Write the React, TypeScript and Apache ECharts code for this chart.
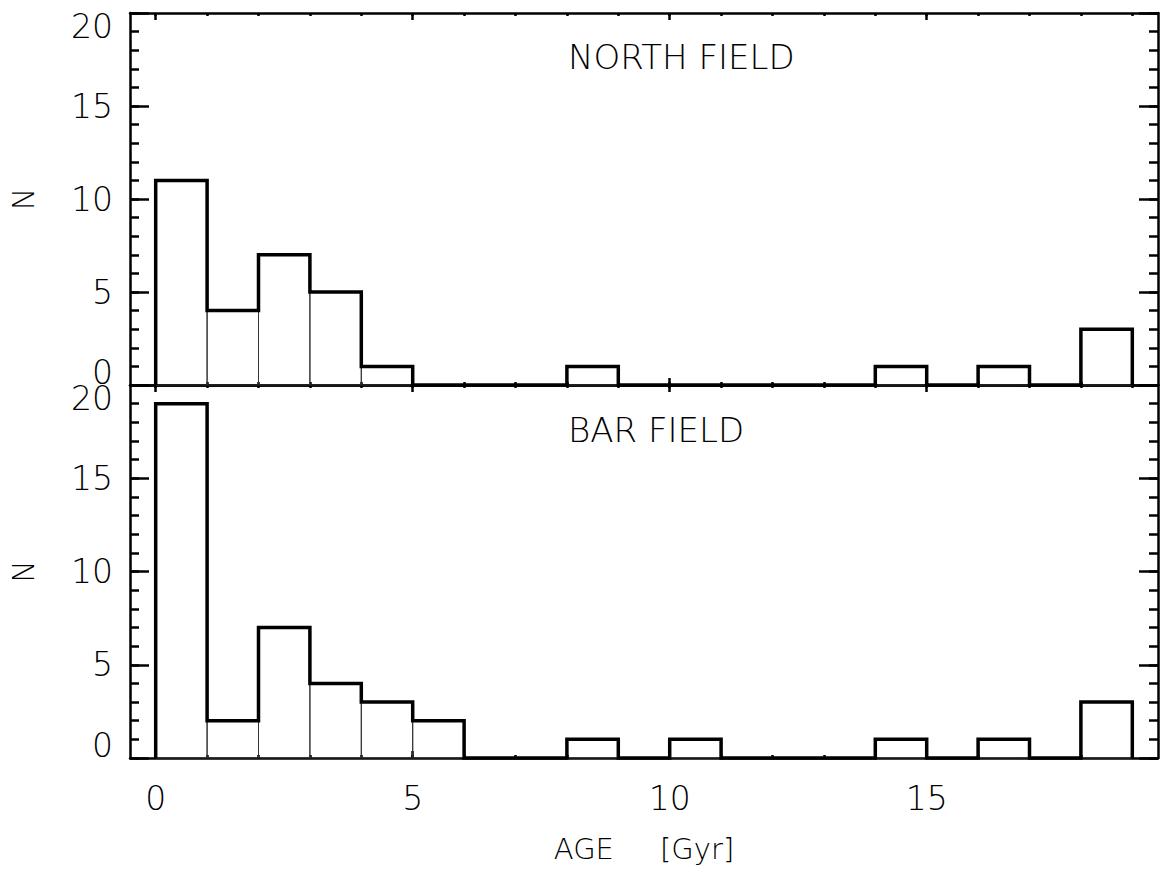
import React, { useEffect, useRef } from "react";
import * as echarts from "echarts";

// ---- data ----
const binLeftEdges = [0, 1, 2, 3, 4, 5, 6, 7, 8, 9, 10, 11, 12, 13, 14, 15, 16, 17, 18];
const binWidth = 1;
const northCounts = [11, 4, 7, 5, 1, 0, 0, 0, 1, 0, 0, 0, 0, 0, 1, 0, 1, 0, 3];
const barCounts = [19, 2, 7, 4, 3, 2, 0, 0, 1, 0, 1, 0, 0, 0, 1, 0, 1, 0, 3];
const xMajorTicks = [0, 5, 10, 15];
const xMinorTicks = [0, 1, 2, 3, 4, 5, 6, 7, 8, 9, 10, 11, 12, 13, 14, 15, 16, 17, 18, 19];
const yMajorStep = 5;
const yMinorStep = 1;
const panelTitles = ["NORTH FIELD", "BAR FIELD"];
const xTitle = "AGE     [Gyr]";
const yTitle = "N";

const FONT = "DejaVu Sans";
const FW = 200;
const X_MIN = -0.5;
const X_MAX = 19.5;
const Y_MIN = 0;
const Y_MAX = 20;

function stepData(counts: number[]) {
  const d: number[][] = [[binLeftEdges[0], 0]];
  binLeftEdges.forEach((e, i) => d.push([e, counts[i]]));
  d.push([binLeftEdges[binLeftEdges.length - 1] + binWidth, 0]);
  return d;
}

function rectData(counts: number[]) {
  return binLeftEdges.map((e, i) => [e, counts[i]]);
}

const TICK_STYLE = { color: "#000", width: 2.5 };

function xAxesFor(grid: number, labels: boolean) {
  const base = {
    type: "value",
    gridIndex: grid,
    min: X_MIN,
    max: X_MAX,
    splitLine: { show: false },
  };
  const lineOn = { show: true, onZero: false, lineStyle: { color: "#000", width: 2.5 } };
  return [
    {
      ...base,
      position: "bottom",
      axisLine: lineOn,
      axisTick: { show: true, inside: true, length: 7, customValues: xMajorTicks, lineStyle: TICK_STYLE },
      axisLabel: labels
        ? { show: true, customValues: xMajorTicks, fontSize: 33, fontFamily: FONT, fontWeight: FW, color: "#000", margin: 24 }
        : { show: false },
      name: labels ? xTitle : "",
      nameLocation: "middle",
      nameGap: 76,
      nameTextStyle: { fontSize: 29, fontFamily: FONT, fontWeight: FW, color: "#000" },
    },
    {
      ...base,
      position: "bottom",
      axisLine: { show: false, onZero: false },
      axisTick: { show: true, inside: true, length: 3, customValues: xMinorTicks, lineStyle: TICK_STYLE },
      axisLabel: { show: false },
    },
    {
      ...base,
      position: "top",
      axisLine: lineOn,
      axisTick: { show: true, inside: true, length: 7, customValues: xMajorTicks, lineStyle: TICK_STYLE },
      axisLabel: { show: false },
    },
    {
      ...base,
      position: "top",
      axisLine: { show: false, onZero: false },
      axisTick: { show: true, inside: true, length: 3, customValues: xMinorTicks, lineStyle: TICK_STYLE },
      axisLabel: { show: false },
    },
  ];
}

function yAxesFor(grid: number) {
  const base = {
    type: "value",
    gridIndex: grid,
    min: Y_MIN,
    max: Y_MAX,
    splitLine: { show: false },
    minorTick: { show: false },
    minorSplitLine: { show: false },
  };
  const major = {
    ...base,
    interval: yMajorStep,
    axisLine: { show: true, onZero: false, lineStyle: { color: "#000", width: 2.5 } },
    axisTick: { show: true, inside: true, length: 19, lineStyle: TICK_STYLE },
  };
  const minor = {
    ...base,
    interval: yMinorStep,
    axisLine: { show: false, onZero: false },
    axisTick: { show: true, inside: true, length: 9, lineStyle: TICK_STYLE },
    axisLabel: { show: false },
  };
  return [
    {
      ...major,
      position: "left",
      axisLabel: {
        show: true,
        fontSize: 33,
        fontFamily: FONT,
        fontWeight: FW,
        color: "#000",
        margin: 17,
        lineHeight: 26,
        verticalAlignMinLabel: "bottom",
        verticalAlignMaxLabel: "top",
      },
      name: yTitle,
      nameLocation: "middle",
      nameRotate: 90,
      nameGap: 92,
      nameTextStyle: { fontSize: 30, fontFamily: FONT, fontWeight: FW, color: "#000" },
    },
    { ...minor, position: "left" },
    { ...major, position: "right", axisLabel: { show: false } },
    { ...minor, position: "right" },
  ];
}

function histSeries(grid: number, counts: number[]) {
  const xi = grid * 4;
  const yi = grid * 4;
  return [
    {
      type: "custom",
      xAxisIndex: xi,
      yAxisIndex: yi,
      data: rectData(counts),
      encode: { x: 0, y: 1 },
      clip: false,
      z: 2,
      renderItem: (params: any, api: any) => {
        const x0 = api.value(0);
        const h = api.value(1);
        if (!h) return null;
        const p0 = api.coord([x0, 0]);
        const p1 = api.coord([x0 + binWidth, h]);
        return {
          type: "rect",
          shape: { x: p0[0], y: p1[1], width: p1[0] - p0[0], height: p0[1] - p1[1] },
          style: { fill: "none", stroke: "#333", lineWidth: 1 },
        };
      },
    },
    {
      type: "line",
      xAxisIndex: xi,
      yAxisIndex: yi,
      data: stepData(counts),
      step: "end",
      symbol: "none",
      clip: false,
      z: 3,
      lineStyle: { color: "#000", width: 3.5, join: "miter" },
    },
  ];
}

export default function App() {
  const ref = useRef<HTMLDivElement>(null);
  useEffect(() => {
    if (!ref.current) return;
    const chart = echarts.init(ref.current, undefined, { renderer: "svg" });
    chart.setOption({
      animation: false,
      backgroundColor: "#fff",
      grid: [
        { left: 130, top: 13, width: 1028, height: 372 },
        { left: 130, top: 385, width: 1028, height: 373 },
      ],
      xAxis: [...xAxesFor(0, false), ...xAxesFor(1, true)],
      yAxis: [...yAxesFor(0), ...yAxesFor(1)],
      series: [...histSeries(0, northCounts), ...histSeries(1, barCounts)],
      graphic: [
        {
          type: "text",
          x: 568,
          y: 57,
          style: { text: panelTitles[0], fontSize: 34, fontFamily: FONT, fontWeight: FW, fill: "#000", align: "left", verticalAlign: "middle" },
        },
        {
          type: "text",
          x: 568,
          y: 430,
          style: { text: panelTitles[1], fontSize: 34, fontFamily: FONT, fontWeight: FW, fill: "#000", align: "left", verticalAlign: "middle" },
        },
      ],
    });
    return () => chart.dispose();
  }, []);
  return (
    <div
      ref={ref}
      style={{ position: "absolute", left: 0, top: 0, width: 1160, height: 873, background: "#fff" }}
    />
  );
}
